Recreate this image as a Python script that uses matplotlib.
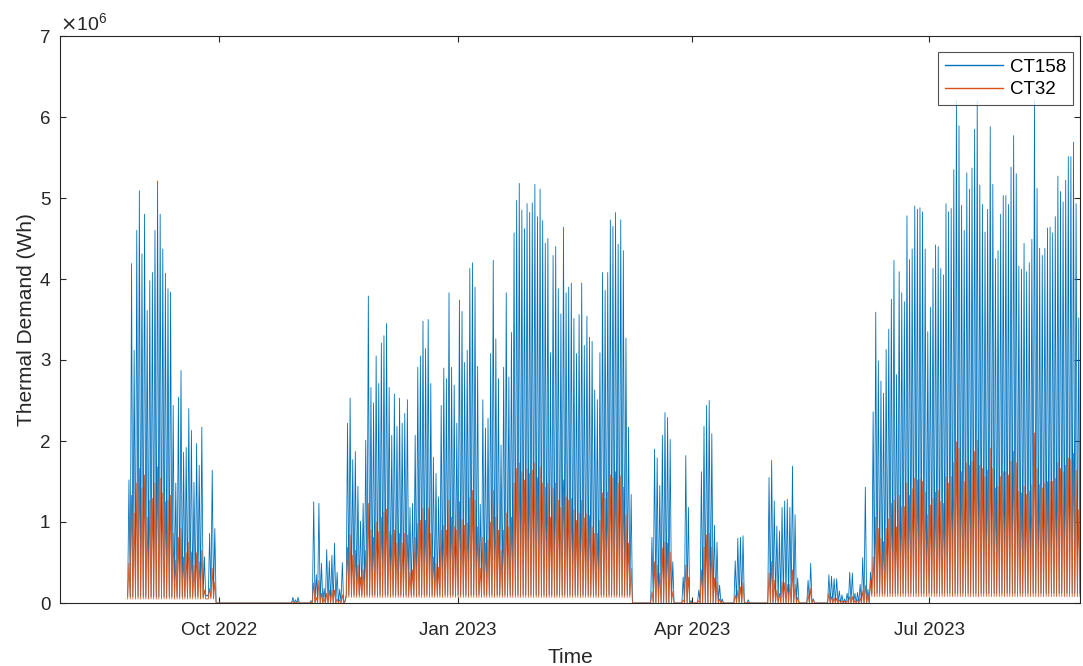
import matplotlib
matplotlib.use("Agg")
import matplotlib.pyplot as plt
import numpy as np

plt.rcParams["font.family"] = ["Liberation Sans", "DejaVu Sans"]

# daily maxima in units of 1e6 Wh, one value per day starting 27 Aug 2022
first_day = np.datetime64("2022-08-27")
ct158_peak = (
    [1.52, 4.19, 3.12, 4.6, 5.09, 4.31, 4.8, 3.61, 3.98, 4.08,
     4.6, 5.21, 4.8, 4.37, 4.07, 3.88, 3.84, 2.44, 1.48, 2.54,
     2.87, 1.86, 1.92, 2.4, 2.13, 1.49, 1.97, 1.7, 2.17, 0.57,
     0.1, 0.86, 1.64, 0.92]
    + [0.0] * 29
    + [0.07, 0.04, 0.07, 0, 0, 0, 0,
       0.03, 1.25, 0.35, 1.23, 0.49, 0.18, 0.66, 0.52, 0.59, 0.74,
       0.38, 0.17, 0.5, 0.03, 2.22, 2.53, 1.77, 1.87, 1.44, 1.01,
       1.23, 2.01, 3.79, 2.66, 2.47, 3.05, 2.71, 3.21, 3.3, 3.45,
       2.66, 2.07, 2.58, 2.18, 2.53, 2.22, 2.34, 2.51, 1.18, 1.23,
       2.07, 2.91, 3.05, 3.48, 3.14, 3.5, 2.71, 1.8, 1.6, 1.31,
       2.44, 2.9, 2.77, 3.83, 2.91, 2.69, 2.22, 3.74, 3.6, 2.97,
       3.12, 4.13, 4.2, 3.9, 2.92, 1.22, 2.51, 2.16, 2.28, 3.08,
       4.23, 3.26, 2.77, 1.95, 2.91, 3.83, 2.79, 3.34, 4.57, 4.97,
       5.18, 4.85, 4.62, 4.93, 4.82, 4.94, 5.17, 4.77, 5.11, 4.72,
       4.44, 4.5, 3.09, 4.29, 4.4, 3.88, 3.57, 4.64, 3.83, 3.9,
       3.95, 3.51, 3.08, 3.56, 3.95, 3.18, 3.54, 3.28, 3.23, 2.63,
       2.51, 3.09, 4.08, 3.86, 4.08, 4.73, 4.65, 4.82, 4.43, 4.73,
       4.35, 3.27, 2.17, 1.34, 0, 0, 0, 0, 0, 0,
       0, 0.81, 1.9, 1.79, 1.45, 2.07, 2.35, 2.29, 2.02, 0.51,
       0, 0, 0, 0.32, 1.82, 1.18, 0.03, 0, 0, 0.16,
       1.62, 2.18, 2.44, 2.5, 2.09, 0.96, 0.75, 0.22, 0.05, 0,
       0, 0, 0, 0.52, 0.8, 0.81, 0.83, 0, 0.04, 0,
       0, 0, 0, 0, 0, 0, 1.55, 1.76, 1.26, 0.95,
       0.89, 1.18, 1.26, 1.28, 1.18, 1.69, 1.09, 0.31, 0, 0,
       0, 0.28, 0.49, 0.05, 0, 0, 0, 0, 0, 0.35,
       0.33, 0.3, 0.3, 0.15, 0.1, 0.05, 0.12, 0.38, 0.37, 0.12,
       0.13, 0.23, 0.56, 1.43, 0.17, 0.38, 2.36, 3.59, 2.99, 2.74,
       2.59, 3.13, 3.38, 3.75, 4.23, 2.82, 4.09, 3.83, 3.72, 4.78,
       4.24, 4.37, 4.9, 4.86, 4.88, 4.83, 4.37, 3.35, 3.65, 4.13,
       4.42, 4.4, 4.13, 4.05, 4.93, 4.83, 4.87, 5.35, 6.2, 5.89,
       4.91, 4.6, 5.31, 5.11, 5.37, 5.85, 6.2, 5.16, 4.92, 4.58,
       4.86, 5.88, 5.17, 4.25, 4.35, 4.8, 5.03, 5.03, 4.92, 5.38,
       5.77, 5.3, 4.16, 4.12, 4.44, 4.09, 4.2, 4.49, 6.2, 5.12,
       4.38, 4.29, 4.38, 4.63, 4.64, 4.57, 4.77, 5.27, 5.08, 4.95,
       5.22, 5.51, 5.51, 5.69, 4.93, 3.52]
)
ct32_peak = (
    [0.49, 1.33, 1.11, 1.48, 1.66, 1.42, 1.58, 1.06, 1.27, 1.29,
     1.48, 1.68, 1.54, 1.36, 1.25, 1.27, 1.33, 0.86, 0.53, 0.81,
     0.92, 0.57, 0.62, 0.75, 0.63, 0.47, 0.62, 0.51, 0.65, 0.16,
     0.05, 0.18, 0.43, 0.26]
    + [0.0] * 29
    + [0.02, 0.01, 0.02, 0, 0, 0, 0,
       0.01, 0.25, 0.07, 0.28, 0.12, 0.05, 0.12, 0.16, 0.16, 0.16,
       0.05, 0.04, 0.1, 0.01, 0.69, 0.84, 0.59, 0.65, 0.47, 0.32,
       0.41, 0.65, 1.23, 0.9, 0.81, 1.0, 0.88, 1.06, 1.12, 1.16,
       0.88, 0.84, 0.9, 0.74, 0.86, 0.74, 0.86, 0.84, 0.38, 0.41,
       0.81, 0.98, 1.02, 1.17, 1.02, 1.17, 0.86, 0.57, 0.49, 0.44,
       0.9, 0.96, 0.9, 1.27, 1.06, 0.94, 0.9, 1.25, 1.03, 0.96,
       0.99, 1.3, 1.39, 1.27, 0.94, 0.43, 0.81, 0.74, 0.78, 1.0,
       1.39, 1.06, 0.9, 0.65, 0.9, 1.11, 0.94, 1.06, 1.48, 1.66,
       1.73, 1.62, 1.52, 1.65, 1.6, 1.64, 1.73, 1.55, 1.68, 1.48,
       1.43, 1.48, 1.06, 1.42, 1.48, 1.27, 1.18, 1.52, 1.31, 1.27,
       1.29, 1.15, 1.02, 1.11, 1.27, 1.05, 1.1, 1.08, 0.94, 0.86,
       0.86, 1.02, 1.36, 1.29, 1.37, 1.58, 1.54, 1.62, 1.48, 1.57,
       1.43, 1.09, 0.74, 0.43, 0, 0, 0, 0, 0, 0,
       0, 0.14, 0.51, 0.47, 0.37, 0.68, 0.75, 0.74, 0.63, 0.14,
       0, 0, 0, 0.04, 0.47, 0.32, 0.01, 0, 0, 0.03,
       0.41, 0.69, 0.84, 0.86, 0.69, 0.31, 0.26, 0.05, 0.02, 0,
       0, 0, 0, 0.1, 0.16, 0.2, 0.25, 0, 0.01, 0,
       0, 0, 0, 0, 0, 0, 0.37, 0.51, 0.28, 0.16,
       0.12, 0.26, 0.25, 0.23, 0.23, 0.41, 0.23, 0.07, 0, 0,
       0, 0.1, 0.18, 0.04, 0, 0, 0, 0, 0, 0.12,
       0.08, 0.06, 0.06, 0.04, 0.03, 0.02, 0.03, 0.08, 0.08, 0.03,
       0.04, 0.06, 0.15, 0.22, 0.1, 0.28, 0.57, 1.06, 0.92, 0.8,
       0.76, 0.92, 1.04, 1.23, 1.27, 0.94, 1.33, 1.19, 1.19, 1.48,
       1.33, 1.41, 1.54, 1.52, 1.53, 1.5, 1.37, 1.09, 1.21, 1.29,
       1.37, 1.39, 1.25, 1.23, 1.56, 1.48, 1.56, 1.73, 1.99, 1.91,
       1.62, 1.5, 1.73, 1.7, 1.75, 1.87, 2.01, 1.7, 1.66, 1.56,
       1.64, 1.91, 1.66, 1.42, 1.44, 1.56, 1.62, 1.62, 1.58, 1.75,
       1.87, 1.73, 1.38, 1.36, 1.44, 1.34, 1.38, 1.46, 2.1, 1.66,
       1.46, 1.42, 1.48, 1.5, 1.5, 1.5, 1.54, 1.73, 1.66, 1.62,
       1.7, 1.79, 1.77, 1.85, 1.64, 1.15]
)

# night-time floor (1e6 Wh), one level per stretch of days
floor_from = np.array(["2022-08-27", "2022-09-30", "2022-11-19",
                       "2023-03-09", "2023-06-09"], dtype="datetime64[D]")
ct158_floor = [0.08, 0.0, 0.1, 0.0, 0.12]
ct32_floor = [0.05, 0.0, 0.07, 0.0, 0.08]

x_ticks = np.array(["2022-10-01", "2023-01-01", "2023-04-01", "2023-07-01"],
                   dtype="datetime64[D]")
x_tick_labels = ["Oct 2022", "Jan 2023", "Apr 2023", "Jul 2023"]
x_limits = np.array(["2022-08-01", "2023-08-28"], dtype="datetime64[D]")
y_ticks = [0, 1, 2, 3, 4, 5, 6, 7]


def daily_profile(peaks, floors):
    peaks = np.asarray(peaks, dtype=float) * 1e6
    days = first_day + np.arange(len(peaks))
    seg = np.searchsorted(floor_from, days, side="right") - 1
    low = np.minimum(np.asarray(floors)[seg] * 1e6, peaks)
    t = np.empty(2 * len(peaks) + 1, dtype="datetime64[h]")
    v = np.empty(2 * len(peaks) + 1)
    t[0:-1:2] = days
    t[1::2] = days + np.timedelta64(12, "h")
    t[-1] = days[-1] + np.timedelta64(1, "D")
    v[0:-1:2] = low
    v[1::2] = peaks
    v[-1] = low[-1]
    return t, v


t158, v158 = daily_profile(ct158_peak, ct158_floor)
t32, v32 = daily_profile(ct32_peak, ct32_floor)

dark = "#262626"
fig = plt.figure(figsize=(10.83, 6.66), dpi=100)
ax = fig.add_axes([60 / 1083, 63 / 666, 1020 / 1083, 567 / 666])

ax.plot(t158, v158, color="#0072BD", lw=0.6, label="CT158")
ax.plot(t32, v32, color="#D95319", lw=0.6, label="CT32")

ax.set_xlim(x_limits[0], x_limits[1])
ax.set_ylim(0, 7e6)
ax.set_xticks(x_ticks)
ax.set_xticklabels(x_tick_labels)
ax.set_yticks([y * 1e6 for y in y_ticks])
ax.set_yticklabels([str(y) for y in y_ticks])

for s in ax.spines.values():
    s.set_color(dark)
    s.set_linewidth(0.8)
ax.tick_params(direction="in", length=4, width=0.8, colors=dark,
               labelsize=13.5, top=True, right=True)
ax.tick_params(axis="x", pad=14)
ax.tick_params(axis="y", pad=7)

ax.text(0, 1.004, r"$\times\mathregular{10^{6}}$", transform=ax.transAxes,
        ha="left", va="bottom", fontsize=14, color=dark)
ax.set_xlabel("Time", fontsize=15, color=dark, labelpad=6)
ax.set_ylabel("Thermal Demand (Wh)", fontsize=15, color=dark, labelpad=3)

leg = ax.legend(loc="upper right", bbox_to_anchor=(0.9931, 0.9718),
                borderaxespad=0, fancybox=False, fontsize=13.5,
                handlelength=3.1, handletextpad=0.4, borderpad=0.35,
                labelspacing=0.3)
leg.get_frame().set_edgecolor(dark)
leg.get_frame().set_linewidth(0.8)
for line in leg.get_lines():
    line.set_linewidth(1.0)

fig.savefig("out.png", dpi=100)
